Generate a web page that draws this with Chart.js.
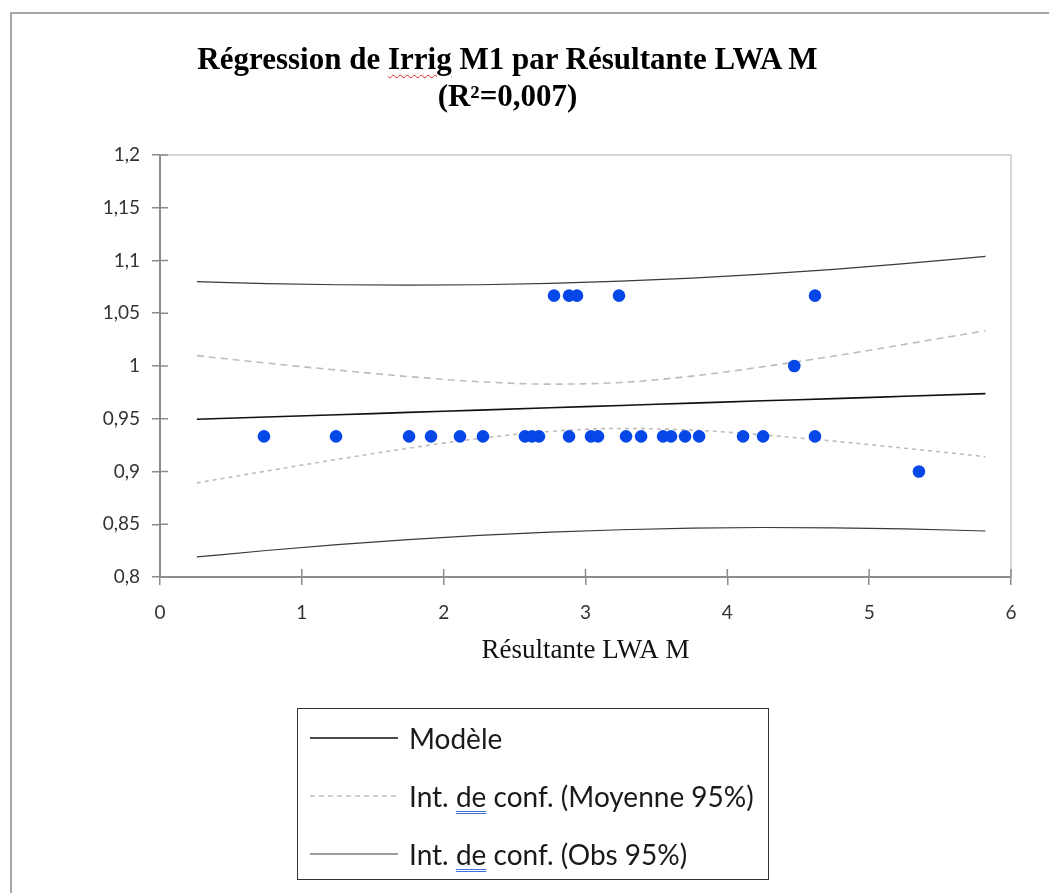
<!DOCTYPE html>
<html>
<head>
<meta charset="utf-8">
<title>Régression de Irrig M1 par Résultante LWA M</title>
<script src="https://cdn.jsdelivr.net/npm/chart.js@4/dist/chart.umd.min.js"></script>
<style>
  html, body { margin: 0; padding: 0; background: #fff; }
  body { width: 1049px; height: 893px; position: relative; overflow: hidden; }
  #frame {
    position: absolute; left: 10px; top: 12px; width: 1100px; height: 1000px;
    border-left: 2px solid #a6a6a6; border-top: 2px solid #a6a6a6;
  }
  #chart-wrap { position: absolute; left: 0; top: 0; width: 1049px; height: 893px; }
  #title {
    position: absolute; left: 0; top: 40px; width: 1015px; text-align: center;
    font: bold 31px "Liberation Serif", "Times New Roman", serif; line-height: 37px; color: #000;
  }
  .wavy { text-decoration: underline wavy #e02a2a; text-decoration-thickness: 1px; text-underline-offset: 5px; }
  #legend {
    position: absolute; left: 297px; top: 708px; width: 472px; height: 172px;
    box-sizing: border-box; border: 1.5px solid #333; padding-top: 0px;
    font: 28px Lato, "Open Sans", sans-serif; color: #1a1a1a;
  }
  #legend .row { display: flex; align-items: center; height: 58px; }
  #legend svg { margin-left: 12px; margin-right: 11px; }
  .spell { text-decoration: underline double #3f6fd8; text-decoration-thickness: 1px; text-underline-offset: 4px; }
</style>
</head>
<body>
<div id="frame"></div>
<div id="chart-wrap"><canvas id="regression"></canvas></div>
<div id="title">Régression de <span class="wavy">Irrig</span> M1 par Résultante LWA M<br>(R²=0,007)</div>
<div id="legend"></div>

<script>
// observations
const obsX = [0.733, 1.241, 1.756, 1.911, 2.115, 2.277, 2.573, 2.623, 2.672, 2.884, 3.039,
  3.088, 3.286, 3.392, 3.547, 3.603, 3.702, 3.801, 4.111, 4.252, 4.618,
  2.778, 2.884, 2.94, 3.236, 4.618, 4.472, 5.351];
const obsY = [0.9333, 0.9333, 0.9333, 0.9333, 0.9333, 0.9333, 0.9333, 0.9333, 0.9333, 0.9333, 0.9333,
  0.9333, 0.9333, 0.9333, 0.9333, 0.9333, 0.9333, 0.9333, 0.9333, 0.9333, 0.9333,
  1.0667, 1.0667, 1.0667, 1.0667, 1.0667, 1.0, 0.9];

// courbes
const courbeX = [0.26, 0.75, 1.25, 1.75, 2.25, 2.75, 3.25, 3.75, 4.25, 4.75, 5.25, 5.82];
const modele = [0.9495, 0.9516, 0.9538, 0.956, 0.9582, 0.9604, 0.9626, 0.9648, 0.967, 0.9691, 0.9713, 0.9738];
const moyHaut = [1.0098, 1.0028, 0.9961, 0.99, 0.9851, 0.9828, 0.9844, 0.9904, 0.9993, 1.0094, 1.0205, 1.0335];
const moyBas = [0.8892, 0.9004, 0.9115, 0.922, 0.9313, 0.938, 0.9408, 0.9392, 0.9347, 0.9288, 0.9221, 0.9141];
const obsHaut = [1.08, 1.0781, 1.077, 1.0766, 1.077, 1.0783, 1.0804, 1.0833, 1.0871, 1.0916, 1.097, 1.104];
const obsBas = [0.819, 0.8251, 0.8306, 0.8354, 0.8394, 0.8425, 0.8448, 0.8463, 0.8469, 0.8466, 0.8456, 0.8436];

const xTicks = [0, 1, 2, 3, 4, 5, 6];
const yTicks = [0.8, 0.85, 0.9, 0.95, 1, 1.05, 1.1, 1.15, 1.2];

const toPts = (xs, ys) => xs.map((x, i) => ({ x: x, y: ys[i] }));
const virgule = (v) => String(+v.toFixed(2)).replace(".", ",");

const ligne = (label, ys, color, width, dash) => ({
  label: label,
  data: toPts(courbeX, ys),
  showLine: true,
  borderColor: color,
  borderWidth: width,
  borderDash: dash,
  pointRadius: 0,
  tension: 0.4,
  cubicInterpolationMode: "monotone",
});

// cadre gris clair + petites graduations vers l'intérieur
const cadre = {
  id: "cadre",
  beforeDatasetsDraw(chart) {
    const { ctx, chartArea: a, scales } = chart;
    ctx.save();
    ctx.strokeStyle = "#d6d6d6";
    ctx.lineWidth = 2;
    ctx.beginPath();
    ctx.moveTo(a.left, a.top);
    ctx.lineTo(a.right, a.top);
    ctx.lineTo(a.right, a.bottom);
    ctx.stroke();
    ctx.strokeStyle = "#8c8c8c";
    ctx.lineWidth = 1.5;
    ctx.beginPath();
    scales.y.ticks.forEach((t, i) => {
      const y = scales.y.getPixelForTick(i);
      ctx.moveTo(a.left, y);
      ctx.lineTo(a.left + 8, y);
    });
    scales.x.ticks.forEach((t, i) => {
      const x = scales.x.getPixelForTick(i);
      ctx.moveTo(x, a.bottom);
      ctx.lineTo(x, a.bottom - 8);
    });
    ctx.stroke();
    ctx.restore();
  },
};

const tickFont = { family: "Lato, 'Open Sans', sans-serif", size: 19 };

const chart = new Chart(document.getElementById("regression"), {
  type: "scatter",
  data: {
    datasets: [
      {
        label: "Observations",
        data: toPts(obsX, obsY),
        backgroundColor: "#0647e8",
        borderColor: "#0647e8",
        pointRadius: 6.3,
        pointBorderWidth: 0,
      },
      ligne("Modèle", modele, "#111", 1.6, []),
      ligne("Int. de conf. (Moyenne 95%)", moyHaut, "#bdbdbd", 1.6, [7, 5]),
      ligne("Int. de conf. (Moyenne 95%)", moyBas, "#bdbdbd", 1.6, [4, 4]),
      ligne("Int. de conf. (Obs 95%)", obsHaut, "#3a3a3a", 1.2, []),
      ligne("Int. de conf. (Obs 95%)", obsBas, "#3a3a3a", 1.2, []),
    ],
  },
  options: {
    responsive: true,
    maintainAspectRatio: false,
    animation: false,
    layout: { padding: { left: 0, top: 155, right: 38, bottom: 216 } },
    plugins: { legend: { display: false }, tooltip: { enabled: false } },
    scales: {
      x: {
        type: "linear",
        min: 0,
        max: 6,
        afterBuildTicks: (s) => { s.ticks = xTicks.map((v) => ({ value: v })); },
        afterFit: (s) => { s.height = 100; },
        ticks: { font: tickFont, color: "#333", padding: 16, callback: virgule },
        grid: { drawOnChartArea: false, tickLength: 8, color: "#8c8c8c", lineWidth: 1.5 },
        border: { color: "#8c8c8c", width: 2 },
        title: {
          display: true,
          text: "Résultante LWA M",
          color: "#111",
          font: { family: "'Liberation Serif', 'Times New Roman', serif", size: 27 },
          padding: { top: 0, bottom: 10 },
        },
      },
      y: {
        type: "linear",
        min: 0.8,
        max: 1.2,
        afterBuildTicks: (s) => { s.ticks = yTicks.map((v) => ({ value: v })); },
        afterFit: (s) => { s.width = 160; },
        ticks: { font: tickFont, color: "#333", padding: 12, callback: virgule },
        grid: { drawOnChartArea: false, tickLength: 8, color: "#8c8c8c", lineWidth: 1.5 },
        border: { color: "#8c8c8c", width: 2 },
      },
    },
  },
  plugins: [cadre],
});

// légende en html, à partir des séries du graphique
const legende = document.getElementById("legend");
const vus = new Set();
chart.data.datasets.slice(1).forEach((ds) => {
  if (vus.has(ds.label)) return;
  vus.add(ds.label);
  const row = document.createElement("div");
  row.className = "row";
  const dash = ds.borderDash.length ? ' stroke-dasharray="5 4"' : "";
  const texte = ds.label.replace(" de ", ' <span class="spell">de</span> ');
  row.innerHTML =
    '<svg width="88" height="6"><line x1="0" y1="3" x2="88" y2="3" stroke="' +
    ds.borderColor + '" stroke-width="' + ds.borderWidth + '"' + dash + "/></svg>" +
    "<span>" + texte + "</span>";
  legende.appendChild(row);
});
</script>
</body>
</html>
